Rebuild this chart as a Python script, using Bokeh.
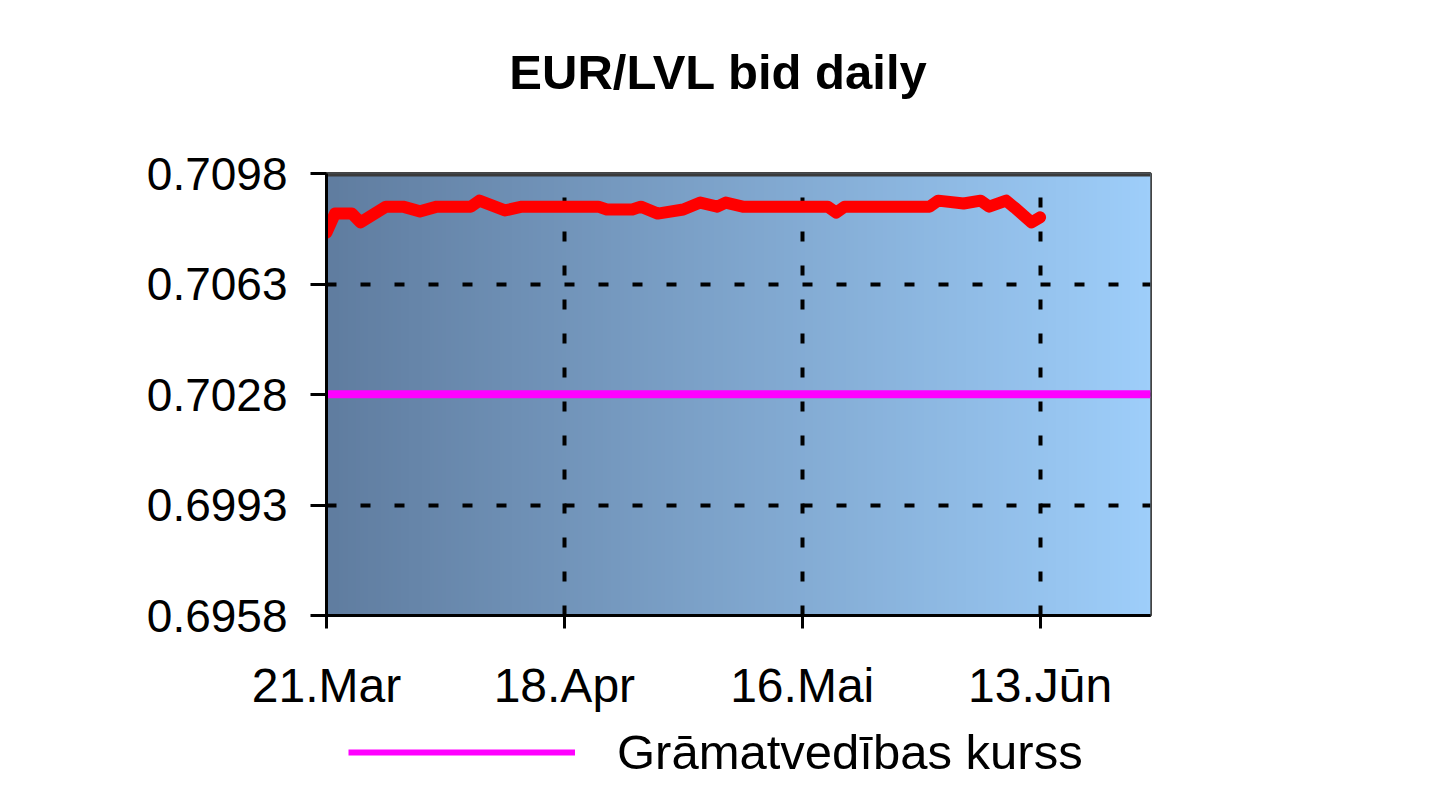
import numpy as np
from bokeh.plotting import figure
from bokeh.layouts import column
from bokeh.models import (FixedTicker, Range1d, Legend, LegendItem, Span, Label)
from bokeh.embed import file_html
from bokeh.resources import INLINE

# ---- data ----
title_text = "EUR/LVL bid daily"
legend_label = "Grāmatvedības kurss"
# days counted from 21 Mar
bid_days = [0, 1, 3, 4, 7, 9, 11, 13, 17, 18, 21, 23, 32, 33, 36, 37, 39, 42, 44,
            46, 47, 49, 59, 60, 61, 71, 72, 75, 77, 78, 80, 81, 83, 84]
bid_values = [0.70793, 0.70853, 0.70853, 0.70825, 0.70875, 0.70875, 0.70860,
              0.70875, 0.70875, 0.70894, 0.70863, 0.70875, 0.70875, 0.70866,
              0.70866, 0.70875, 0.70853, 0.70866, 0.70888, 0.70875, 0.70888,
              0.70875, 0.70875, 0.70856, 0.70875, 0.70875, 0.70894, 0.70885,
              0.70894, 0.70875, 0.70894, 0.70872, 0.70825, 0.70841]
accounting_rate = 0.702804
x_tick_days = [0, 28, 56, 84]
x_tick_labels = ["21.Mar", "18.Apr", "16.Mai", "13.Jūn"]
y_ticks = [0.6958, 0.6993, 0.7028, 0.7063, 0.7098]
x_end = 97

FONT = "Liberation Sans"
LEFT, FW, RIGHT = 326, 824, 260


def strip(height):
    f = figure(frame_width=FW, frame_height=height, output_backend="svg",
               toolbar_location=None, x_range=Range1d(0, 1),
               y_range=Range1d(10, 11), title=None,
               x_axis_location=None, y_axis_location=None,
               min_border_left=LEFT, min_border_right=RIGHT,
               min_border_top=0, min_border_bottom=0)
    f.grid.visible = False
    f.outline_line_color = None
    f.background_fill_color = "white"
    f.border_fill_color = "white"
    return f


# ---------- title strip ----------
pt = strip(143)
pt.add_layout(Label(x=718 - LEFT, y=72, x_units="screen", y_units="screen",
                    text=title_text, text_font=FONT, text_font_size="49px",
                    text_font_style="bold", text_color="black",
                    text_align="center", text_baseline="alphabetic"))

# ---------- main chart ----------
p = figure(frame_width=FW, frame_height=442, output_backend="svg",
           toolbar_location=None, x_range=Range1d(0, x_end),
           y_range=Range1d(y_ticks[0], y_ticks[-1]), title=None,
           min_border_left=LEFT, min_border_right=RIGHT,
           min_border_top=30, min_border_bottom=105)

# gradient background
ncol = 200
left_c = np.array([96, 125, 160])
right_c = np.array([158, 206, 250])
t = np.linspace(0, 1, ncol)[:, None]
cols = (left_c * (1 - t) + right_c * t).astype(np.uint32)
img = np.zeros((1, ncol), dtype=np.uint32)
view = img.view(dtype=np.uint8).reshape((1, ncol, 4))
view[0, :, 0] = cols[:, 0]
view[0, :, 1] = cols[:, 1]
view[0, :, 2] = cols[:, 2]
view[0, :, 3] = 255
bg = p.image_rgba(image=[img], x=0, y=y_ticks[0], dw=x_end,
                  dh=y_ticks[-1] - y_ticks[0])
bg.level = "image"

# grid
p.xgrid.ticker = FixedTicker(ticks=x_tick_days)
p.ygrid.ticker = FixedTicker(ticks=y_ticks)
for g in (p.xgrid, p.ygrid):
    g.grid_line_color = "black"
    g.grid_line_width = 4
    g.grid_line_dash = "10 24"

# top border
p.add_layout(Span(location=y_ticks[-1], dimension="width", line_color="#3a3a3a",
                  line_width=6, level="underlay"))

# lines
p.line(x=[0, x_end], y=[accounting_rate, accounting_rate],
       line_color="#ff00ff", line_width=8)
p.line(x=bid_days, y=bid_values, line_color="#ff0000", line_width=12,
       line_join="round", line_cap="round")

# axes
p.xaxis.ticker = FixedTicker(ticks=x_tick_days)
p.xaxis.major_label_overrides = {d: l for d, l in zip(x_tick_days, x_tick_labels)}
p.yaxis.ticker = FixedTicker(ticks=y_ticks)
p.yaxis.major_label_overrides = {v: "%.4f" % v for v in y_ticks}
for ax in (p.xaxis, p.yaxis):
    ax.axis_line_color = "black"
    ax.axis_line_width = 3
    ax.major_tick_line_color = "black"
    ax.major_tick_line_width = 3
    ax.major_tick_in = 0
    ax.minor_tick_line_color = None
    ax.major_label_text_font = FONT
    ax.major_label_text_color = "black"
    ax.axis_label = None
p.xaxis.major_tick_out = 13
p.yaxis.major_tick_out = 16
p.xaxis.major_label_text_font_size = "48px"
p.yaxis.major_label_text_font_size = "46px"
p.xaxis.major_label_standoff = 30
p.yaxis.major_label_standoff = 23

p.outline_line_color = "#444444"
p.outline_line_width = 3
p.background_fill_color = "#7fa6d0"
p.border_fill_color = "white"

# ---------- legend strip ----------
pl = strip(85)
acc_leg = pl.line(x=[0, x_end], y=[accounting_rate, accounting_rate],
                  line_color="#ff00ff", line_width=6)
legend = Legend(items=[LegendItem(label=legend_label, renderers=[acc_leg])],
                location=(348 - LEFT, 25), orientation="horizontal")
legend.label_text_font = FONT
legend.label_text_font_size = "49px"
legend.label_text_color = "black"
legend.glyph_width = 227
legend.glyph_height = 30
legend.label_height = 30
legend.label_standoff = 42
legend.padding = 0
legend.margin = 0
legend.spacing = 0
legend.border_line_alpha = 0
legend.background_fill_alpha = 0
pl.add_layout(legend, "center")

layout = column(pt, p, pl, spacing=0)
open("out.html", "w").write(file_html(layout, INLINE))
